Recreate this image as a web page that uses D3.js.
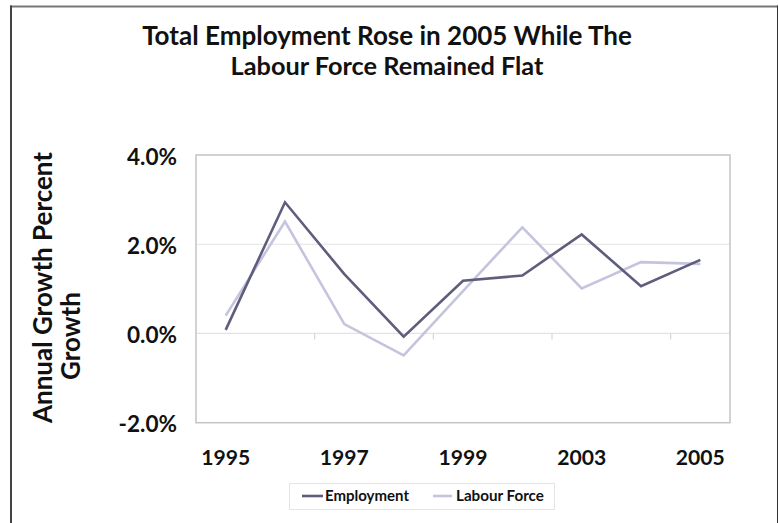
<!DOCTYPE html>
<html>
<head>
<meta charset="utf-8">
<script src="https://cdn.jsdelivr.net/npm/d3@7"></script>
<style>
  html, body { margin: 0; padding: 0; background: #fff; }
  svg { display: block; }
  text { font-family: Lato, "Open Sans", sans-serif; font-weight: 700; fill: #111; }
</style>
</head>
<body>
<svg id="chart" width="779" height="523"></svg>
<script>
// Annual growth rates, percent
const years = ["1995", "1996", "1997", "1998", "1999", "2001", "2003", "2004", "2005"];
const employment = [0.08, 2.94, 1.33, -0.07, 1.18, 1.30, 2.22, 1.06, 1.65];
const labourForce = [0.40, 2.51, 0.21, -0.49, 0.95, 2.38, 1.01, 1.60, 1.56];
const yTicks = [-2, 0, 2, 4];
const xLabelYears = ["1995", "1997", "1999", "2003", "2005"];
const seriesNames = ["Employment", "Labour Force"];
const seriesColors = ["#5e5d7c", "#c5c4de"];

const svg = d3.select("#chart");
const W = 779, H = 523;
const plot = { left: 196, right: 730, top: 155, bottom: 422.7 };

// scale a text element's font size so its rendered width hits a target
function fitWidth(sel, target) {
  const node = sel.node();
  const fs = parseFloat(sel.attr("font-size"));
  const w = node.getComputedTextLength();
  if (w > 0) sel.attr("font-size", (fs * target / w).toFixed(2));
  return sel;
}
function measure(str, size, weight) {
  const t = svg.append("text").attr("font-size", size).attr("font-weight", weight).text(str);
  const w = t.node().getComputedTextLength();
  t.remove();
  return w;
}

// outer frame
svg.append("line").attr("x1", 10).attr("x2", 778).attr("y1", 6.5).attr("y2", 6.5)
  .attr("stroke", "#777").attr("stroke-width", 2);
svg.append("line").attr("x1", 11).attr("x2", 11).attr("y1", 5.5).attr("y2", H)
  .attr("stroke", "#444").attr("stroke-width", 2);
svg.append("line").attr("x1", 777.5).attr("x2", 777.5).attr("y1", 5.5).attr("y2", H)
  .attr("stroke", "#333").attr("stroke-width", 1);

// title
const title = svg.append("g");
fitWidth(title.append("text").attr("x", 387).attr("y", 45).attr("text-anchor", "middle")
  .attr("font-size", 22).text("Total Employment Rose in 2005 While The"), 490);
fitWidth(title.append("text").attr("x", 387).attr("y", 75).attr("text-anchor", "middle")
  .attr("font-size", 22).text("Labour Force Remained Flat"), 313);

// scales
const x = d3.scalePoint().domain(years).range([plot.left, plot.right]).padding(0.5);
const y = d3.scaleLinear().domain([-2, 4]).range([plot.bottom, plot.top]);
const step = x.step();

// gridlines
svg.append("g").selectAll("line").data(yTicks.filter(d => d > -2 && d < 4)).join("line")
  .attr("x1", plot.left).attr("x2", plot.right)
  .attr("y1", d => y(d)).attr("y2", d => y(d))
  .attr("stroke", "#e3e3e3").attr("stroke-width", 1.2);

// plot border
svg.append("rect")
  .attr("x", plot.left).attr("y", plot.top)
  .attr("width", plot.right - plot.left).attr("height", plot.bottom - plot.top)
  .attr("fill", "none").attr("stroke", "#c4c4c4").attr("stroke-width", 1.5);

// category ticks on the zero line, every second category boundary
const tickIdx = [1, 3, 5, 7];
svg.append("g").selectAll("line").data(tickIdx).join("line")
  .attr("x1", i => x(years[i]) + step / 2).attr("x2", i => x(years[i]) + step / 2)
  .attr("y1", y(0)).attr("y2", y(0) + 6)
  .attr("stroke", "#d6d6d6").attr("stroke-width", 1.2);

// y-axis labels
const pct = d => d3.format(".1f")(d).replace("\u2212", "-") + "%";
const ySize = 19 * 50 / measure("4.0%", 19, 900);
svg.append("g").selectAll("text").data(yTicks).join("text")
  .attr("x", 177).attr("y", d => y(d) + 9.5)
  .attr("text-anchor", "end").attr("font-size", ySize.toFixed(2)).attr("font-weight", 900)
  .text(pct);

// x-axis labels
const xSize = 20 * 49 / measure("1995", 20, 900);
svg.append("g").selectAll("text").data(xLabelYears).join("text")
  .attr("x", d => x(d)).attr("y", 465)
  .attr("text-anchor", "middle").attr("font-size", xSize.toFixed(2)).attr("font-weight", 900)
  .text(d => d);

// y-axis title (two lines)
const t1 = svg.append("text").attr("transform", "translate(52,287.5) rotate(-90)")
  .attr("text-anchor", "middle").attr("font-size", 22).attr("font-weight", 900)
  .text("Annual Growth Percent");
fitWidth(t1, 271);
svg.append("text").attr("transform", "translate(80,336) rotate(-90)")
  .attr("text-anchor", "middle").attr("font-size", t1.attr("font-size")).attr("font-weight", 900)
  .text("Growth");

// series lines
const line = d3.line().x((d, i) => x(years[i])).y(d => y(d));
[[labourForce, seriesColors[1]], [employment, seriesColors[0]]].forEach(([vals, color]) => {
  svg.append("path").datum(vals)
    .attr("d", line)
    .attr("fill", "none").attr("stroke", color)
    .attr("stroke-width", 2.6).attr("stroke-linejoin", "miter");
});

// legend
const legend = svg.append("g");
legend.append("rect").attr("x", 289.5).attr("y", 483.5).attr("width", 265).attr("height", 26)
  .attr("fill", "#fff").attr("stroke", "#e4e4e4").attr("stroke-width", 1);
const legendItems = [
  { name: seriesNames[0], color: seriesColors[0], x0: 302, x1: 323, tx: 325, w: 84 },
  { name: seriesNames[1], color: seriesColors[1], x0: 433, x1: 452, tx: 456, w: 88 }
];
legendItems.forEach(it => {
  legend.append("line").attr("x1", it.x0).attr("x2", it.x1).attr("y1", 496).attr("y2", 496)
    .attr("stroke", it.color).attr("stroke-width", 2.6);
  fitWidth(legend.append("text").attr("x", it.tx).attr("y", 501)
    .attr("font-size", 13).attr("font-weight", 900).text(it.name), it.w);
});
</script>
</body>
</html>
